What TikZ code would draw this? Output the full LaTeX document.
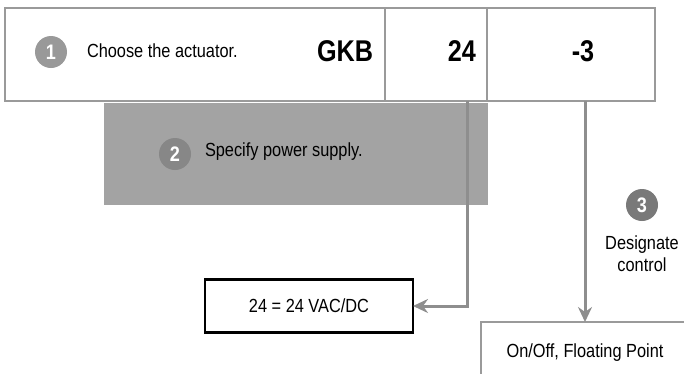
\documentclass[tikz,border=0pt]{standalone}
\usepackage{fontspec}
\setmainfont{Liberation Sans}[FakeStretch=0.86]
\newfontfamily\codefont{Liberation Sans}[FakeStretch=0.84]
\usetikzlibrary{positioning,arrows.meta}
\definecolor{rulegray}{HTML}{9A9A9A}
\definecolor{wiregray}{HTML}{8E8E8E}
\definecolor{panelgray}{HTML}{A3A3A3}

\begin{document}
\begin{tikzpicture}[x=1pt,y=-1pt,>={Stealth[length=15pt,width=14pt,inset=5pt]},
   every node/.style={font=\fontsize{19}{22}\selectfont,inner sep=0pt,outer sep=0pt},
   cell/.style={draw=rulegray,line width=2pt,minimum height=93pt},
   code/.style={font=\codefont\bfseries\fontsize{30}{32}\selectfont},
   badge/.style={circle,minimum size=32pt,text=white,
     font=\bfseries\fontsize{21}{21}\selectfont},
   outbox/.style={draw,line width=2.2pt,fill=white},
   wire/.style={draw=wiregray,line width=3pt}]
  \useasboundingbox (0,0) rectangle (684,373);
  \clip (0,0) rectangle (684,373);
  \node[cell,minimum width=380pt,anchor=north west] (actcell) at (5,8) {};
  \node[cell,minimum width=102pt,right=0pt of actcell] (voltcell) {};
  \node[cell,minimum width=168pt,right=0pt of voltcell] (ctlcell) {};
  \node[badge,fill=gray!80] (b1) at (51,52) {1};
  \node[anchor=west] (acttext) at (87,51) {Choose the actuator.};
  \node[code,anchor=east] (gkb) at (373,51) {GKB};
  \node[code,anchor=east] (volt) at (476,51) {24};
  \node[code] (ctl) at (583,51) {-3};
  \node[fill=panelgray,minimum width=384pt,minimum height=102pt,anchor=north west] (panel) at (104,103) {};
  \node[badge,fill=gray!78!panelgray] (b2) at (175,154) {2};
  \node[anchor=west] (pwrtext) at (205,152) {Specify power supply.};
  \node[outbox,draw=black,minimum width=208pt,minimum height=53pt] (pwrbox) at (309,306) {24 = 24 VAC/DC};
  \node[outbox,draw=rulegray,minimum width=208pt,minimum height=62pt,anchor=north west] (ctlbox) at (481,322) {On/Off, Floating Point};
  \node[badge,fill=gray!95!black] (b3) at (642,205) {3};
  \node[align=center,below=15pt of b3] (ctltext) {Designate\\control};
  \draw[wire,->] ([xshift=-20pt]voltcell.south east) |- (pwrbox.east);
  \draw[wire,->] (ctlcell.south -| ctlbox.north) -- (ctlbox.north);
\end{tikzpicture}
\end{document}
